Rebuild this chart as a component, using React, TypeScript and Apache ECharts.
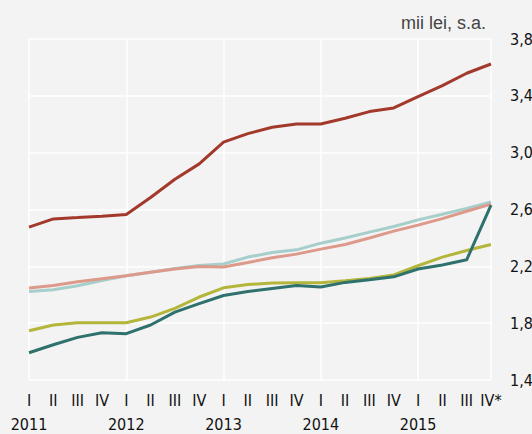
import React, { useEffect, useRef } from "react";
import * as echarts from "echarts";

const quarters = ["I", "II", "III", "IV", "I", "II", "III", "IV", "I", "II", "III", "IV", "I", "II", "III", "IV", "I", "II", "III", "IV*"];
const years = ["2011", "2012", "2013", "2014", "2015"];

const seriesDarkRed = [2.476, 2.534, 2.543, 2.553, 2.565, 2.684, 2.813, 2.921, 3.074, 3.134, 3.179, 3.202, 3.202, 3.242, 3.289, 3.315, 3.394, 3.472, 3.559, 3.624];
const seriesLightTeal = [2.023, 2.035, 2.063, 2.1, 2.133, 2.159, 2.185, 2.206, 2.216, 2.265, 2.297, 2.316, 2.363, 2.399, 2.441, 2.48, 2.527, 2.567, 2.607, 2.654];
const seriesSalmon = [2.047, 2.065, 2.091, 2.112, 2.133, 2.159, 2.181, 2.199, 2.195, 2.227, 2.26, 2.286, 2.321, 2.354, 2.399, 2.448, 2.49, 2.536, 2.588, 2.638];
const seriesOlive = [1.747, 1.787, 1.803, 1.803, 1.803, 1.843, 1.904, 1.984, 2.049, 2.072, 2.082, 2.084, 2.084, 2.098, 2.114, 2.14, 2.204, 2.265, 2.311, 2.354];
const seriesDarkTeal = [1.592, 1.648, 1.7, 1.733, 1.726, 1.787, 1.878, 1.937, 1.995, 2.023, 2.044, 2.065, 2.054, 2.087, 2.105, 2.126, 2.181, 2.209, 2.246, 2.631];

const FONT = "'DejaVu Sans Condensed', 'Liberation Sans', sans-serif";

export default function App() {
  const ref = useRef<HTMLDivElement>(null);
  useEffect(() => {
    if (!ref.current) return;
    const chart = echarts.init(ref.current, null, { renderer: "svg" });
    const line = (name: string, data: number[], color: string) => ({
      name,
      type: "line",
      data,
      symbol: "none",
      lineStyle: { color, width: 3 },
      itemStyle: { color },
    });
    chart.setOption({
      animation: false,
      backgroundColor: "#f3f3f3",
      title: {
        text: "mii lei, s.a.",
        right: 41,
        top: 9,
        textStyle: { fontFamily: "'Liberation Sans', sans-serif", fontSize: 18, fontWeight: "normal", color: "#444" },
      },
      grid: { left: 29, right: 41, top: 39, bottom: 54, containLabel: false, outerBoundsMode: "none" },
      xAxis: {
        type: "category",
        data: quarters,
        boundaryGap: false,
        axisLine: { show: false },
        axisTick: { show: false },
        splitLine: {
          show: true,
          interval: (index: number) => index % 4 === 0 || index === quarters.length - 1,
          lineStyle: { color: "#ffffff", width: 1.5 },
        },
        axisLabel: {
          interval: 0,
          margin: 8,
          fontFamily: FONT,
          fontSize: 16,
          lineHeight: 24,
          color: "#111",
          formatter: (val: string, idx: number) => (idx % 4 === 0 ? `${val}\n${years[idx / 4]}` : val),
        },
      },
      yAxis: {
        type: "value",
        position: "right",
        min: 1.4,
        max: 3.8,
        interval: 0.4,
        axisLine: { show: false },
        axisTick: { show: false },
        splitLine: { show: true, lineStyle: { color: "#ffffff", width: 1.5 } },
        axisLabel: {
          margin: 19,
          fontFamily: FONT,
          fontSize: 16,
          color: "#111",
          formatter: (v: number) => v.toFixed(1).replace(".", ","),
        },
      },
      series: [
        line("s1", seriesLightTeal, "#a6cecb"),
        line("s2", seriesSalmon, "#dd9a8b"),
        line("s3", seriesOlive, "#b3b63a"),
        line("s4", seriesDarkTeal, "#2e716d"),
        line("s5", seriesDarkRed, "#a2392a"),
      ],
    });
    return () => chart.dispose();
  }, []);
  return <div ref={ref} style={{ position: "absolute", left: 0, top: 0, width: 532, height: 434, background: "#f3f3f3" }} />;
}
